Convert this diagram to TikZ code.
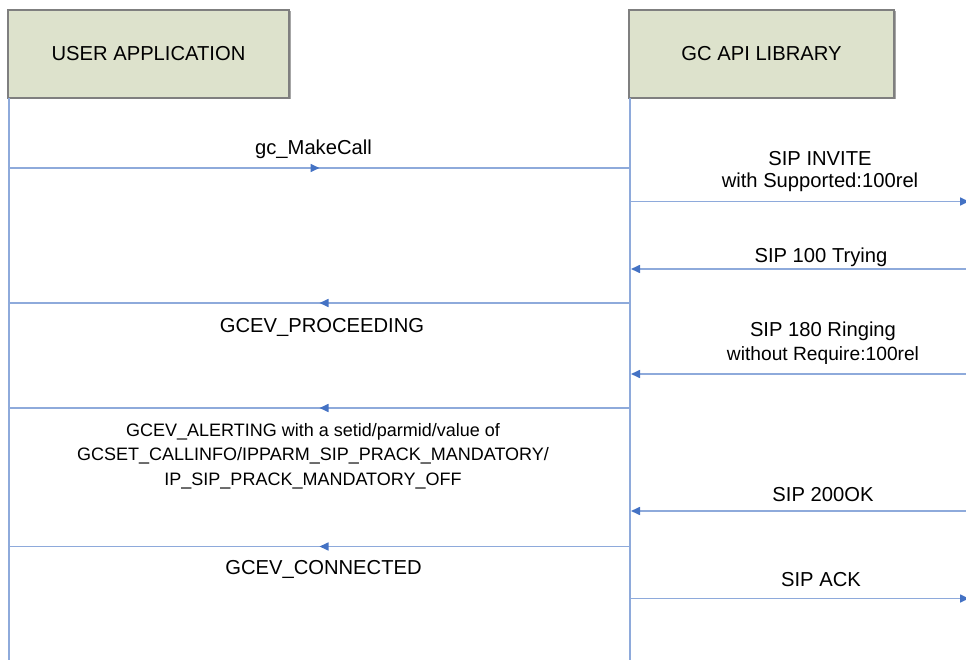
\documentclass[tikz,border=0pt]{standalone}
\usepackage{fontspec}
\setmainfont{Liberation Sans}
\usetikzlibrary{arrows.meta,decorations.markings,shadows}
\definecolor{msgline}{HTML}{8EAADB}
\definecolor{msgtip}{HTML}{4472C4}
\definecolor{boxfill}{HTML}{DDE2CC}
\definecolor{boxedge}{HTML}{7F7F7F}
\begin{document}
\begin{tikzpicture}[x=1pt,y=-1pt,
  actor/.style={draw=boxedge, line width=1.3pt, fill=boxfill,
    minimum height=88pt, inner sep=0pt,
    drop shadow={shadow xshift=1.5pt, shadow yshift=-1.5pt, opacity=0.35, fill=black},
    font=\fontsize{20.2}{23}\selectfont},
  lifeline/.style={draw=msgline, line width=1.6pt},
  msg/.style={draw=msgline, line width=1.6pt},
  midtip/.style={postaction={decorate, decoration={markings,
    mark=at position 0.5 with {\arrow[color=msgtip]{Triangle[length=9pt,width=8pt]}}}}},
  endtip/.style={-{Triangle[length=9pt,width=8pt,color=msgtip]}},
  lbl/.style={anchor=base, align=center, inner sep=0pt,
    font=\fontsize{20.2}{22}\selectfont},
]
\useasboundingbox (0,0) rectangle (966,660);

% participants
\node[actor, minimum width=281pt] (ua) at (148.5,54) {USER APPLICATION};
\node[actor, minimum width=265pt] (gc) at (761.5,54) {GC API LIBRARY};

% lifelines
\coordinate (ua-top) at (9,98);
\coordinate (ua-bot) at (9,660);
\coordinate (gc-top) at (630,98);
\coordinate (gc-bot) at (630,660);
\draw[lifeline] (ua-top) -- (ua-bot);
\draw[lifeline] (gc-top) -- (gc-bot);

% message end points
\coordinate (mk-a) at (9,168);     \coordinate (mk-b) at (630,168);
\coordinate (inv-a) at (630,201.5);\coordinate (inv-b) at (969,201.5);
\coordinate (try-a) at (969,269);  \coordinate (try-b) at (631,269);
\coordinate (pro-a) at (630,303);  \coordinate (pro-b) at (9,303);
\coordinate (rng-a) at (969,374);  \coordinate (rng-b) at (631,374);
\coordinate (alr-a) at (630,408);  \coordinate (alr-b) at (9,408);
\coordinate (ok-a) at (969,511);   \coordinate (ok-b) at (631,511);
\coordinate (con-a) at (630,546.5);\coordinate (con-b) at (9,546.5);
\coordinate (ack-a) at (630,598.5);\coordinate (ack-b) at (969,598.5);

% messages
\draw[msg, midtip] (mk-a) -- (mk-b);
\draw[msg, endtip] (inv-a) -- (inv-b);
\draw[msg, endtip] (try-a) -- (try-b);
\draw[msg, midtip] (pro-a) -- (pro-b);
\draw[msg, endtip] (rng-a) -- (rng-b);
\draw[msg, midtip] (alr-a) -- (alr-b);
\draw[msg, endtip] (ok-a) -- (ok-b);
\draw[msg, midtip] (con-a) -- (con-b);
\draw[msg, endtip] (ack-a) -- (ack-b);

% labels (multi-line labels are anchored on their last baseline)
\node[lbl] (l-mk) at (313.5,155) {gc\_MakeCall};
\node[lbl] (l-inv) at (820,188) {SIP INVITE\\with Supported:100rel};
\node[lbl] (l-try) at (821,262) {SIP 100 Trying};
\node[lbl] (l-pro) at (322,332) {GCEV\_PROCEEDING};
\node[lbl, font=\fontsize{20.2}{24}\selectfont] (l-rng) at (823,360)
  {SIP 180 Ringing\\{\fontsize{19.2}{24}\selectfont without Require:100rel}};
\node[lbl, font=\fontsize{18}{24.5}\selectfont] (l-alr) at (313,485)
  {GCEV\_ALERTING with a setid/parmid/value of\\
   GCSET\_CALLINFO/IPPARM\_SIP\_PRACK\_MANDATORY/\\
   IP\_SIP\_PRACK\_MANDATORY\_OFF};
\node[lbl] (l-ok) at (823,501) {SIP 200OK};
\node[lbl] (l-con) at (323.5,574) {GCEV\_CONNECTED};
\node[lbl] (l-ack) at (821,586) {SIP ACK};
\end{tikzpicture}
\end{document}
